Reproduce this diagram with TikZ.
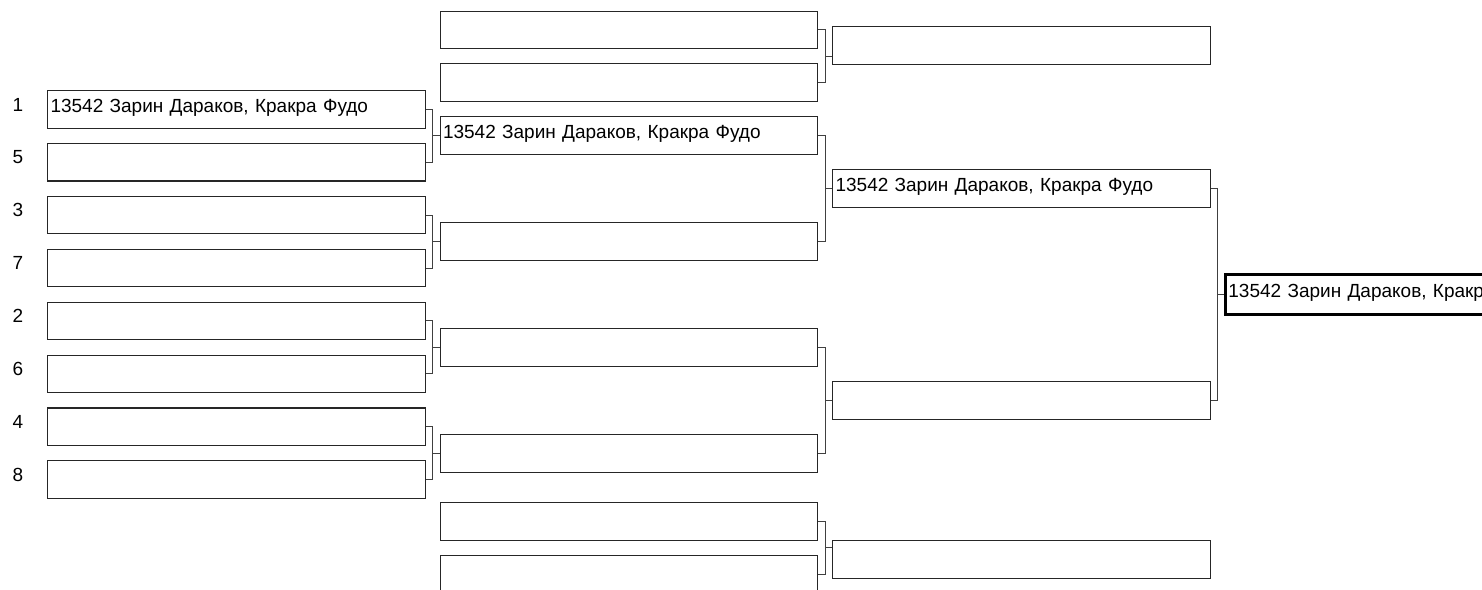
\documentclass[tikz,border=0pt]{standalone}
\usepackage{fontspec}
\setmainfont{Liberation Sans}
\usepackage{tikz}
\usetikzlibrary{calc,positioning}
\newcommand{\entry}{\fontsize{19}{21}\selectfont}
\newcommand{\pairname}{13542 Зарин Дараков, Кракра Фудо}
\tikzset{
  slot/.style={draw=black!85, line width=1.1pt, anchor=north west, minimum width=377.5pt,
    minimum height=37.5pt, inner sep=0pt, inner xsep=3pt, text width=371.5pt, align=left,
    text height=13.5pt, text depth=8pt, font=\entry},
  champ/.style={slot, draw=black, line width=2.8pt, minimum height=40pt},
  seed/.style={font=\entry, anchor=base},
  link/.style={draw=black!75, line width=1pt}
}

\begin{document}
\begin{tikzpicture}[x=1pt,y=-1pt]
\useasboundingbox (0,0) rectangle (1482,589);
\clip (0,0) rectangle (1482,589);
% first round with seeds
\foreach \s [count=\i from 0] in {1,5,3,7,2,6,4,8} {
  \pgfmathsetmacro\ytop{90+52.9*\i}
  \node[slot] (e\s) at (47,\ytop) {\ifnum\s=1 \pairname\fi};
  \node[seed] (n\s) at (18,\ytop+21) {\s};
}
% second column
\node[slot] (c2a) at (439.5,10.5) {};
\node[slot] (c2b) at (439.5,63) {};
\node[slot] (c2c) at (439.5,116) {\pairname};
\node[slot] (c2d) at (439.5,222) {};
\node[slot] (c2e) at (439.5,328) {};
\node[slot] (c2f) at (439.5,434) {};
\node[slot] (c2g) at (439.5,502) {};
\node[slot] (c2h) at (439.5,555) {};
% third column
\node[slot] (c3a) at (832,26) {};
\node[slot] (c3b) at (832,169) {\pairname};
\node[slot] (c3c) at (832,381) {};
\node[slot] (c3d) at (832,540) {};
% final
\node[champ] (final) at (1224,273) {\pairname};
% brackets
\foreach \a/\b/\c in {e1/e5/c2c,e3/e7/c2d,e2/e6/c2e,e4/e8/c2f,c2a/c2b/c3a,c2c/c2d/c3b,c2e/c2f/c3c,c2g/c2h/c3d,c3b/c3c/final} {
  \coordinate (m) at ($(\a.east)!.5!(\b.east)$);
  \draw[link] (\a.east) -- ++(7,0) |- (\b.east);
  \draw[link] (m) ++(7,0) -- (\c.west |- m);
}
\end{tikzpicture}
\end{document}
